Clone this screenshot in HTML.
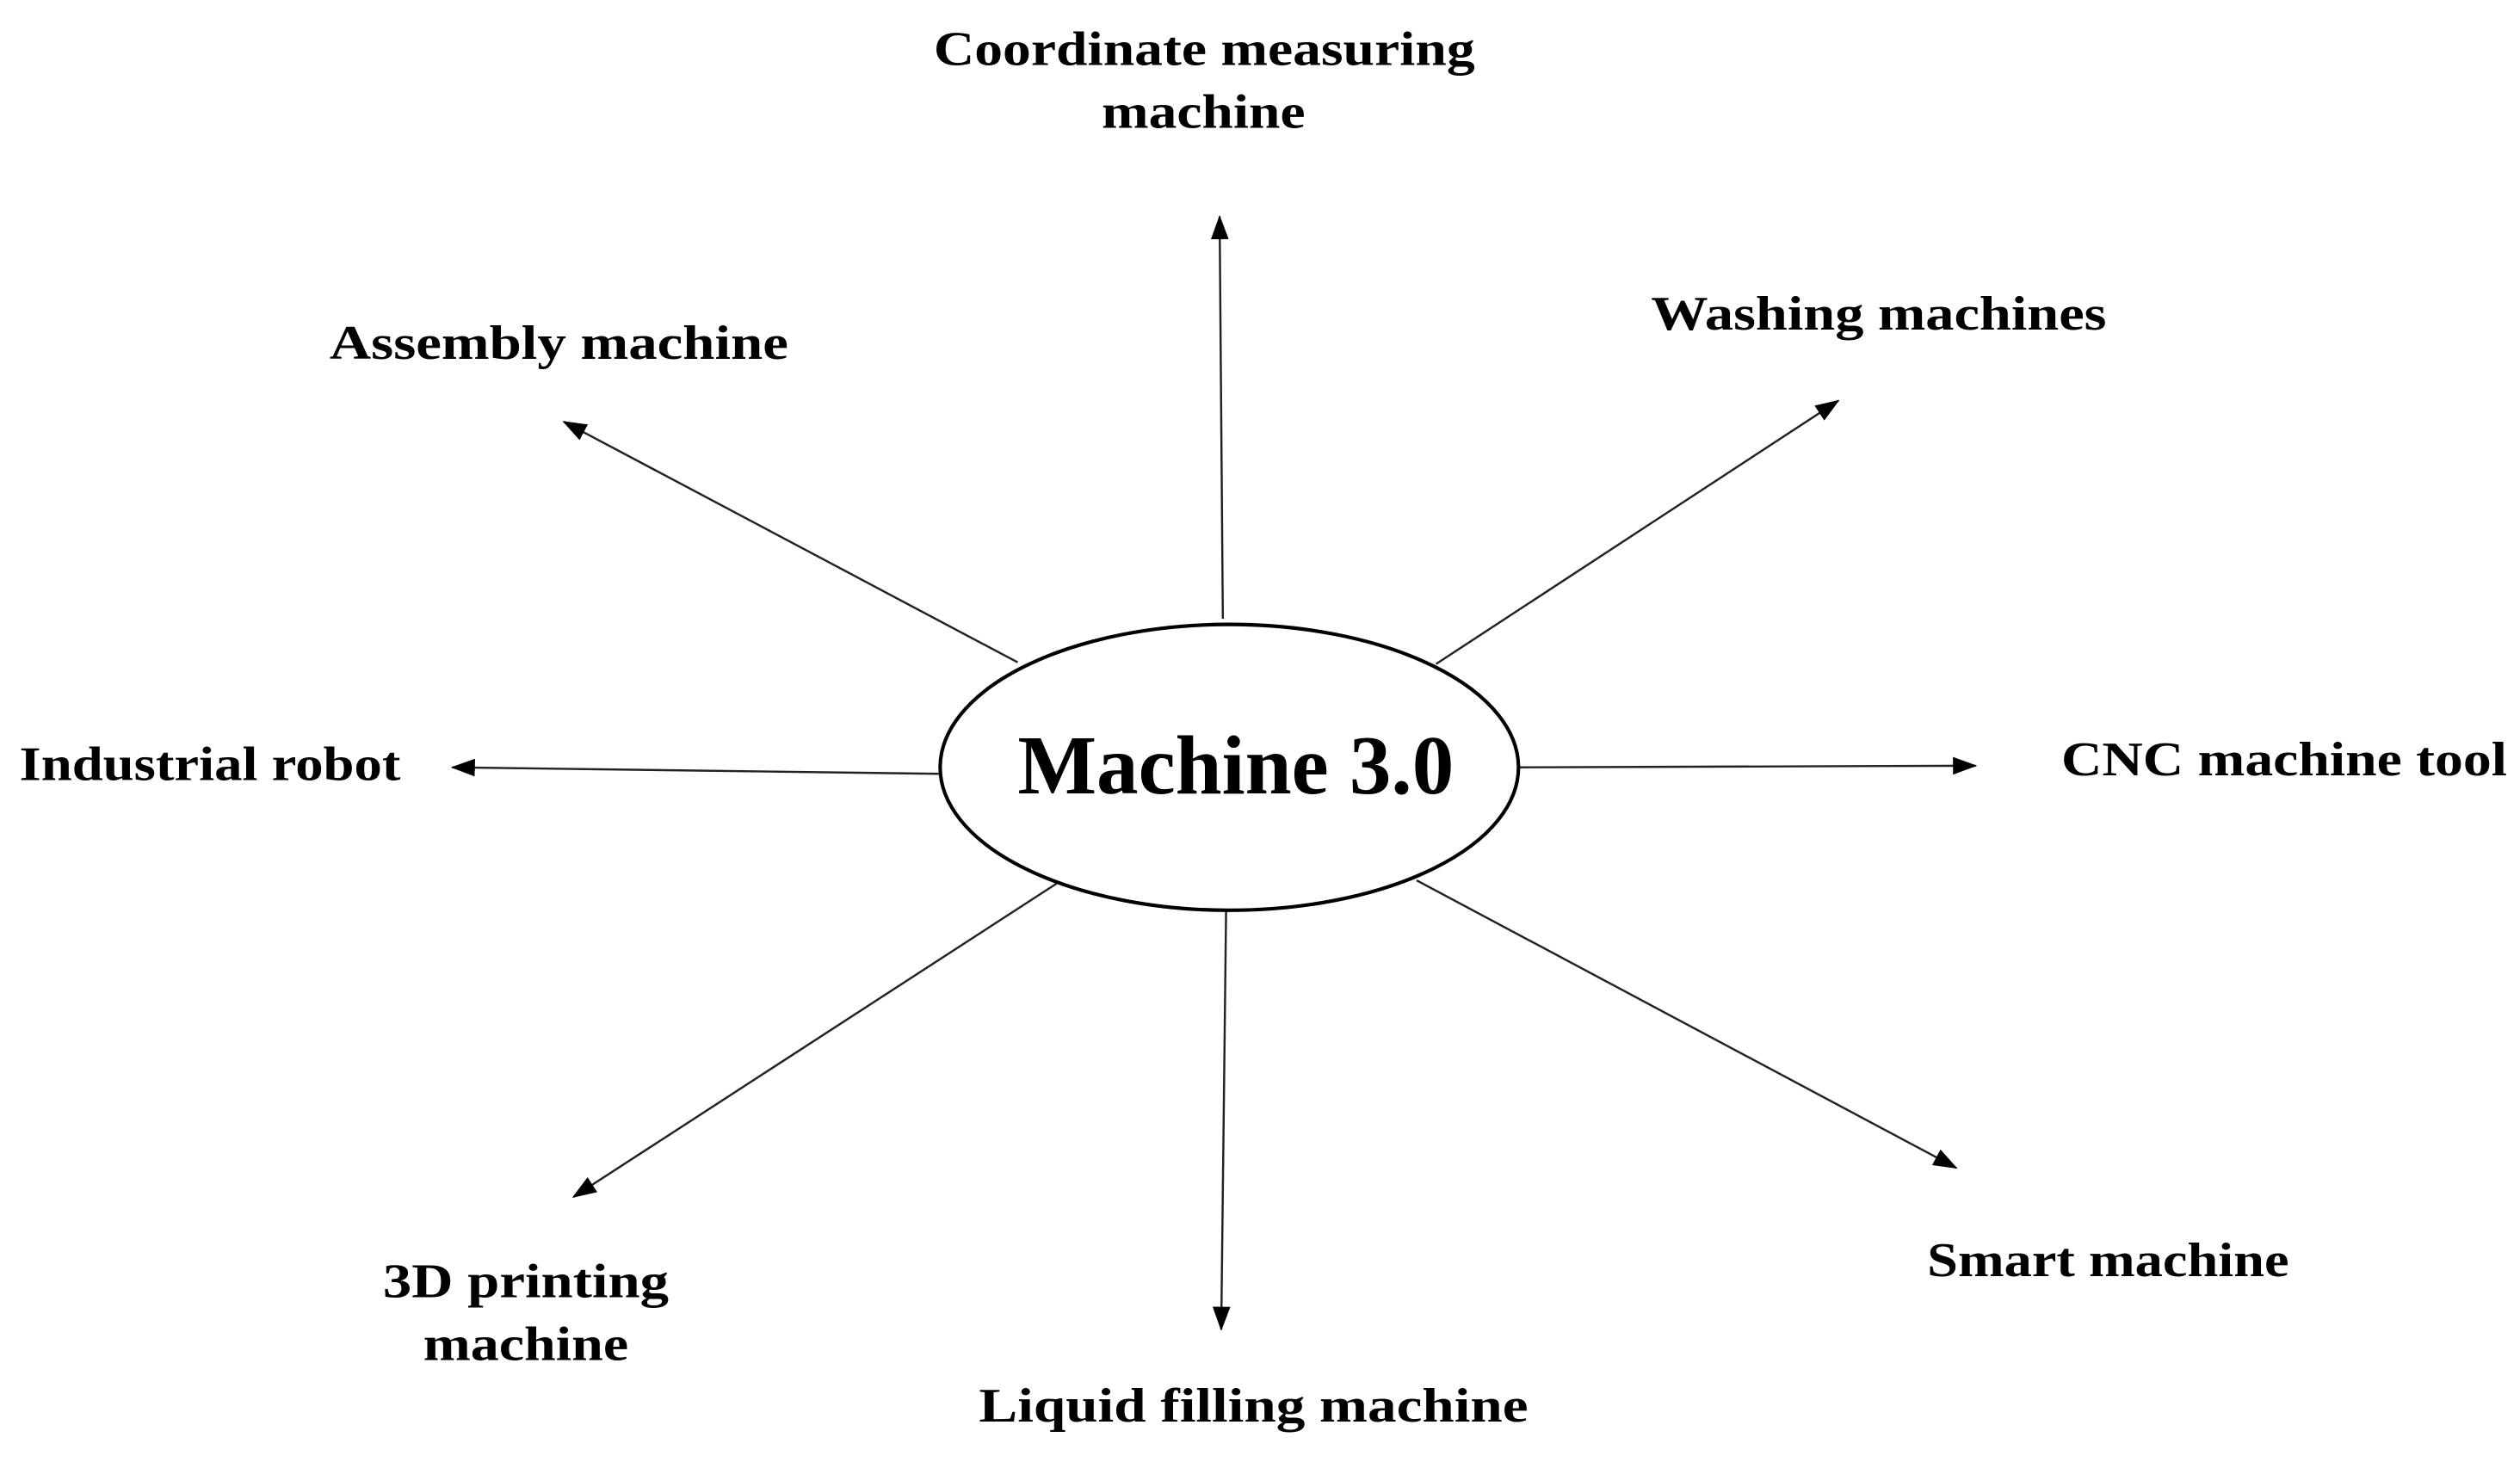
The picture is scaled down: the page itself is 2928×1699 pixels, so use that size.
<!DOCTYPE html>
<html><head><meta charset="utf-8"><style>
html,body{margin:0;padding:0;background:#fff;}
svg{display:block;}
text{font-family:"Liberation Serif",serif;font-weight:bold;fill:#000;}
</style></head><body>
<svg width="2928" height="1699" viewBox="0 0 1560 905" xmlns="http://www.w3.org/2000/svg">
<defs>
<marker id="a" markerWidth="15" markerHeight="11" refX="14" refY="5.5" orient="auto" markerUnits="userSpaceOnUse" viewBox="0 0 15 11">
<path d="M0,0 L15,5.5 L0,11 Z" fill="#000"/>
</marker>
</defs>
<g stroke="#222" stroke-width="1.3" fill="none" marker-end="url(#a)">
<line x1="757" y1="383" x2="755" y2="134"/>
<line x1="630" y1="410" x2="349" y2="261"/>
<line x1="889" y1="411" x2="1138" y2="248"/>
<line x1="581" y1="479" x2="280" y2="475"/>
<line x1="940" y1="475" x2="1223" y2="474"/>
<line x1="654" y1="547" x2="355" y2="741"/>
<line x1="759" y1="564" x2="756" y2="823"/>
<line x1="877" y1="545" x2="1211" y2="723"/>
</g>
<ellipse cx="761" cy="475" rx="179" ry="88.5" fill="#fff" stroke="#000" stroke-width="2.2"/>
<text x="630" y="491" font-size="52" textLength="270" lengthAdjust="spacingAndGlyphs">Machine 3.0</text>
<g font-size="30">
<text x="578" y="40" textLength="335" lengthAdjust="spacingAndGlyphs">Coordinate measuring</text>
<text x="682" y="79" textLength="126" lengthAdjust="spacingAndGlyphs">machine</text>
<text x="204" y="222" textLength="284" lengthAdjust="spacingAndGlyphs">Assembly machine</text>
<text x="1022" y="204" textLength="282" lengthAdjust="spacingAndGlyphs">Washing machines</text>
<text x="12" y="483" textLength="236" lengthAdjust="spacingAndGlyphs">Industrial robot</text>
<text x="1276" y="480" textLength="276" lengthAdjust="spacingAndGlyphs">CNC machine tool</text>
<text x="237" y="803" textLength="177" lengthAdjust="spacingAndGlyphs">3D printing</text>
<text x="262" y="842" textLength="127" lengthAdjust="spacingAndGlyphs">machine</text>
<text x="606" y="880" textLength="340" lengthAdjust="spacingAndGlyphs">Liquid filling machine</text>
<text x="1193" y="790" textLength="224" lengthAdjust="spacingAndGlyphs">Smart machine</text>
</g>
</svg>
</body></html>
